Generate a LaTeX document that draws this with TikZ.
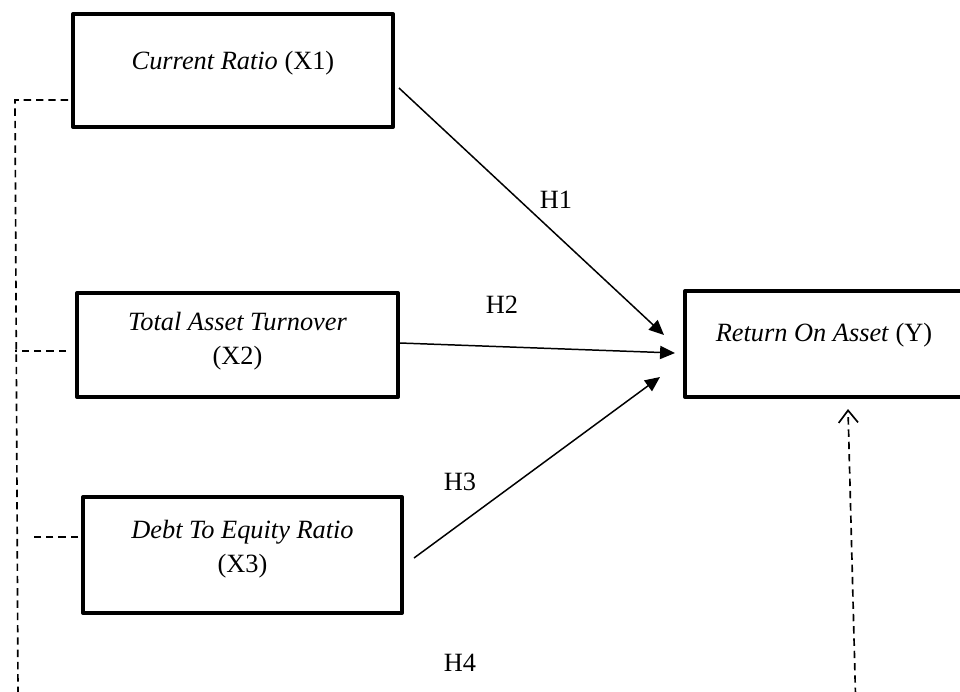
\documentclass[tikz,border=0pt]{standalone}
\usepackage{fontspec}
\setmainfont{Liberation Serif}
\usetikzlibrary{arrows.meta}
\begin{document}
\begin{tikzpicture}[x=0.02cm,y=-0.02cm,
	varbox/.style={draw=black,line width=2.3pt,line join=round,inner sep=0pt},
	vartext/.style={font=\fontsize{15pt}{19.4pt}\selectfont,align=center,inner sep=0pt},
	hyp/.style={line width=0.85pt,-{Triangle[length=8.5pt,width=7.5pt]}},
	dashln/.style={line width=0.95pt,dash pattern=on 4.2pt off 2.8pt},
	hlabel/.style={font=\fontsize{15pt}{18pt}\selectfont,inner sep=0pt}]
	\useasboundingbox (0,0) rectangle (960,691);

	% variable boxes
	\node[varbox,minimum width=6.4cm,minimum height=2.26cm] (cr) at (233,70.5) {};
	\node[vartext] (crt) at ([shift={(0,-7)}]cr.center) {\textit{Current Ratio} (X1)};
	\node[varbox,minimum width=6.42cm,minimum height=2.08cm] (tat) at (237.5,345) {};
	\node[vartext] (tatt) at ([shift={(0,-4)}]tat.center) {\textit{Total Asset Turnover}\\(X2)};
	\node[varbox,minimum width=6.38cm,minimum height=2.32cm] (der) at (242.5,555) {};
	\node[vartext] (dert) at ([shift={(0,-6)}]der.center) {\textit{Debt To Equity Ratio}\\(X3)};
	\node[varbox,minimum width=5.6cm,minimum height=2.12cm] (roa) at (825,344) {};
	\node[vartext] (roat) at ([shift={(-1,-9)}]roa.center) {\textit{Return On Asset} (Y)};

	% hypotheses
	\draw[hyp] ([shift={(4,17.5)}]cr.east) -- ([shift={(-19,-9)}]roa.west);
	\draw[hyp] ([shift={(0,-2)}]tat.east) -- ([shift={(-8,9)}]roa.west);
	\draw[hyp] ([shift={(10,3)}]der.east) -- ([shift={(-23,33)}]roa.west);
	\node[hlabel] (h1) at (556,200) {H1};
	\node[hlabel] (h2) at (502,305) {H2};
	\node[hlabel] (h3) at (460,482) {H3};
	\node[hlabel] (h4) at (460,663) {H4};

	% simultaneous
	\coordinate (ltop) at (15,100);
	\coordinate (lbot) at (18,695);
	\coordinate (rbot) at (855.5,695);
	\draw[dashln] ([shift={(-3,29.5)}]cr.west) -- (ltop) -- (lbot);
	\draw[dashln] ([shift={(-9,6)}]tat.west) -- +(-51,0);
	\draw[dashln] ([shift={(-3,-18)}]der.west) -- +(-48,0);
	\draw[dashln,-{Straight Barb[length=7pt,width=11pt]}] (rbot) -- ([shift={(23,10)}]roa.south);
\end{tikzpicture}
\end{document}
